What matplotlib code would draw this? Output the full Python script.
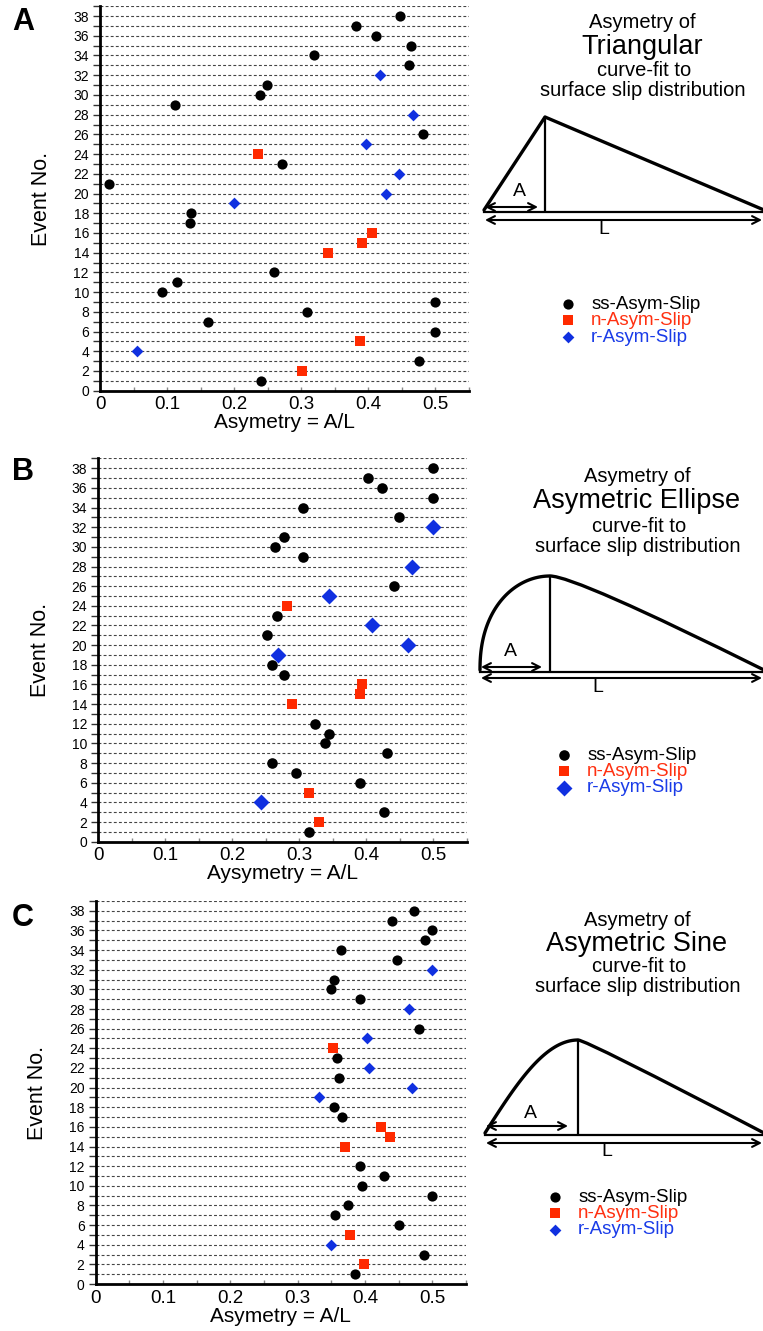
import numpy as np
import matplotlib
matplotlib.use("Agg")
import matplotlib.pyplot as plt
from matplotlib.path import Path
from matplotlib.patches import PathPatch

plt.rcParams["font.family"] = ["Liberation Sans", "DejaVu Sans"]

# ---------------- data: asymmetry A/L for each event, by slip type ----------------
# Panel A: triangular fit
tri_ss_event = [38, 37, 36, 35, 34, 33, 31, 30, 29, 26, 23, 21, 18, 17, 12, 11, 10, 9, 8, 7, 6, 3, 1]
tri_ss_asym = [0.447, 0.381, 0.412, 0.463, 0.319, 0.461, 0.249, 0.238, 0.112, 0.481, 0.272,
               0.014, 0.136, 0.134, 0.259, 0.115, 0.092, 0.500, 0.308, 0.161, 0.500, 0.475, 0.240]
tri_n_event = [24, 16, 15, 14, 5, 2]
tri_n_asym = [0.236, 0.405, 0.390, 0.340, 0.388, 0.301]
tri_r_event = [32, 28, 25, 22, 20, 19, 4]
tri_r_asym = [0.417, 0.467, 0.397, 0.445, 0.427, 0.200, 0.055]

# Panel B: asymmetric ellipse fit
ell_ss_event = [38, 37, 36, 35, 34, 33, 31, 30, 29, 26, 23, 21, 18, 17, 12, 11, 10, 9, 8, 7, 6, 3, 1]
ell_ss_asym = [0.500, 0.403, 0.423, 0.500, 0.305, 0.449, 0.277, 0.264, 0.305, 0.442, 0.267,
               0.252, 0.259, 0.277, 0.324, 0.345, 0.339, 0.431, 0.259, 0.295, 0.390, 0.426, 0.315]
ell_n_event = [24, 16, 15, 14, 5, 2]
ell_n_asym = [0.281, 0.394, 0.391, 0.289, 0.314, 0.330]
ell_r_event = [32, 28, 25, 22, 20, 19, 4]
ell_r_asym = [0.500, 0.468, 0.345, 0.409, 0.462, 0.268, 0.243]

# Panel C: asymmetric sine fit
sin_ss_event = [38, 37, 36, 35, 34, 33, 31, 30, 29, 26, 23, 21, 18, 17, 12, 11, 10, 9, 8, 7, 6, 3, 1]
sin_ss_asym = [0.473, 0.440, 0.500, 0.489, 0.364, 0.447, 0.354, 0.350, 0.393, 0.480, 0.359,
               0.361, 0.354, 0.366, 0.393, 0.428, 0.396, 0.500, 0.374, 0.356, 0.451, 0.487, 0.385]
sin_n_event = [24, 16, 15, 14, 5, 2]
sin_n_asym = [0.352, 0.424, 0.437, 0.371, 0.378, 0.399]
sin_r_event = [32, 28, 25, 22, 20, 19, 4]
sin_r_asym = [0.500, 0.466, 0.403, 0.406, 0.470, 0.332, 0.350]

series_labels = ["ss-Asym-Slip", "n-Asym-Slip", "r-Asym-Slip"]
x_ticks = [0, 0.1, 0.2, 0.3, 0.4, 0.5]
x_tick_labels = ["0", "0.1", "0.2", "0.3", "0.4", "0.5"]
y_ticks = list(range(0, 39, 2))

BLACK = "#000000"
RED = "#ff2a00"
BLUE = "#1030e0"
RED_TXT = "#ff3010"
BLUE_TXT = "#1a3ce8"

W, H = 763, 1331
fig = plt.figure(figsize=(W / 100, H / 100), dpi=100)


def px_rect(left, right, bottom, top):
    return [left / W, 1 - bottom / H, (right - left) / W, (bottom - top) / H]


panels = [
    dict(rect=px_rect(100, 469, 390.7, 6.2), letter="A", xlabel="Asymetry = A/L",
         ss=(tri_ss_event, tri_ss_asym), n=(tri_n_event, tri_n_asym), r=(tri_r_event, tri_r_asym),
         s_ss=54, s_n=48, s_r=36),
    dict(rect=px_rect(98.3, 466.8, 841.7, 458.4), letter="B", xlabel="Aysymetry = A/L",
         ss=(ell_ss_event, ell_ss_asym), n=(ell_n_event, ell_n_asym), r=(ell_r_event, ell_r_asym),
         s_ss=58, s_n=52, s_r=66),
    dict(rect=px_rect(95.7, 466.0, 1284.0, 901.0), letter="C", xlabel="Asymetry = A/L",
         ss=(sin_ss_event, sin_ss_asym), n=(sin_n_event, sin_n_asym), r=(sin_r_event, sin_r_asym),
         s_ss=54, s_n=54, s_r=36),
]

for p in panels:
    ax = fig.add_axes(p["rect"])
    ax.set_xlim(0, 0.55)
    ax.set_ylim(0, 39)
    # dashed guide line at every event number
    for ev in range(1, 40):
        ax.axhline(ev, color="#444444", lw=0.8, ls=(0, (2.6, 2.0)), zorder=1)
    h_ss = ax.scatter(p["ss"][1], p["ss"][0], s=p["s_ss"], marker="o", color=BLACK,
                      linewidths=0, zorder=3, label=series_labels[0])
    h_n = ax.scatter(p["n"][1], p["n"][0], s=p["s_n"], marker="s", color=RED,
                     linewidths=0, zorder=3, label=series_labels[1])
    h_r = ax.scatter(p["r"][1], p["r"][0], s=p["s_r"], marker="D", color=BLUE,
                     linewidths=0, zorder=3, label=series_labels[2])
    p["handles"] = [h_ss, h_n, h_r]

    for side in ("top", "right"):
        ax.spines[side].set_visible(False)
    for side in ("left", "bottom"):
        ax.spines[side].set_linewidth(2.0)
    ax.set_yticks(y_ticks)
    ax.set_yticks(range(0, 40), minor=True)
    ax.set_yticklabels([str(v) for v in y_ticks], fontsize=10)
    ax.tick_params(axis="y", which="both", direction="out", length=5, width=1.0,
                   color="#333333", pad=3)
    ax.set_xticks(x_ticks)
    ax.set_xticks(np.arange(0.05, 0.551, 0.1), minor=True)
    ax.set_xticklabels(x_tick_labels, fontsize=13.5)
    ax.tick_params(axis="x", which="both", direction="in", length=3, width=1.0,
                   color="#888888", pad=4)
    ax.set_xlabel(p["xlabel"], fontsize=15, labelpad=0)
    ax.set_ylabel("Event No.", fontsize=15.5, labelpad=15)

# ---------------- schematic drawings, titles and legends ----------------
ov = fig.add_axes([0, 0, 1, 1], zorder=5)
ov.set_xlim(0, W)
ov.set_ylim(H, 0)
ov.axis("off")
ov.patch.set_visible(False)

TEXT_CENTER = [642, 637, 637]
title_rows = [
    (23, 47, 71, 90),
    (477, 501, 526, 546),
    (921, 944, 967, 987),
]
shape_names = ["Triangular", "Asymetric Ellipse", "Asymetric Sine"]
letter_pos = [(23, 22), (23, 472), (23, 918)]

for i, p in enumerate(panels):
    cx = TEXT_CENTER[i]
    r1, r2, r3, r4 = title_rows[i]
    ov.text(cx, r1, "Asymetry of", ha="center", va="center", fontsize=14.5)
    ov.text(cx, r2, shape_names[i], ha="center", va="center", fontsize=19.5)
    ov.text(cx + 2, r3, "curve-fit to", ha="center", va="center", fontsize=14.5)
    ov.text(cx + 1, r4, "surface slip distribution", ha="center", va="center", fontsize=14.5)
    lx, ly = letter_pos[i]
    ov.text(lx, ly, p["letter"], ha="center", va="center", fontsize=22, fontweight="bold")


def arrow(x0, x1, y):
    ov.annotate("", xy=(x1, y), xytext=(x0, y),
                arrowprops=dict(arrowstyle="<->,head_length=0.55,head_width=0.28",
                                lw=1.5, color="black", shrinkA=0, shrinkB=0))


def diagram(x_left, x_peak, x_right, y_base, y_peak, left_curve, right_ctrl,
            a_end, a_y, a_lbl, l_y, l_lbl):
    verts, codes = [], []
    if left_curve is None:
        verts += [(x_left, y_base), (x_peak, y_peak)]
        codes += [Path.MOVETO, Path.LINETO]
    else:
        xs, ys = left_curve
        verts += list(zip(xs, ys))
        codes += [Path.MOVETO] + [Path.LINETO] * (len(xs) - 1)
    if right_ctrl is None:
        verts += [(x_right, y_base)]
        codes += [Path.LINETO]
    else:
        verts += [(right_ctrl, y_peak), (x_right, y_base)]
        codes += [Path.CURVE3, Path.CURVE3]
    ov.add_patch(PathPatch(Path(verts, codes), fill=False, lw=2.4, edgecolor="black",
                           capstyle="round", joinstyle="round"))
    ov.plot([x_peak, x_peak], [y_peak, y_base + 1], color="black", lw=1.6)
    ov.plot([x_left, W + 2], [y_base + 1.5, y_base + 1.5], color="black", lw=1.6)
    arrow(x_left + 1, a_end, a_y)
    arrow(x_left + 1, W - 1, l_y)
    ov.text(a_lbl[0], a_lbl[1], "A", ha="center", va="center", fontsize=14)
    ov.text(l_lbl[0], l_lbl[1], "L", ha="center", va="center", fontsize=14)


# A: triangle
diagram(484, 545, 764, 210, 117, None, None,
        538, 207, (519, 192), 220, (604, 230))

# B: quarter-ellipse rising limb
th = np.linspace(0, np.pi / 2, 60)
ell_x = 550 - 70 * np.cos(th)
ell_y = 670 - 94 * np.sin(th) ** 0.9
diagram(480, 550, 764, 670, 576, (ell_x, ell_y), 575,
        542, 667, (510, 652), 678, (598, 688))

# C: half-sine rising limb
ph = np.linspace(0, 1, 60)
sin_x = 485 + 93 * ph
sin_y = 1133 - 93 * np.sin(np.pi / 2 * ph)
diagram(485, 578, 764, 1133, 1040, (sin_x, sin_y), 586,
        568, 1126, (530, 1114), 1143, (607, 1152))

# legends
legend_anchor = [(559, 296), (555, 747), (546, 1189)]
text_colors = [BLACK, RED_TXT, BLUE_TXT]
for i, p in enumerate(panels):
    ax_x, ax_y = legend_anchor[i]
    leg = fig.legend(p["handles"], series_labels, loc="upper left",
                     bbox_to_anchor=(ax_x / W, 1 - ax_y / H), frameon=False,
                     fontsize=13.5, labelspacing=-0.05, handletextpad=0.71,
                     handlelength=1.0, borderpad=0, borderaxespad=0, markerscale=1.0)
    for t, c in zip(leg.get_texts(), text_colors):
        t.set_color(c)

fig.savefig("out.png", dpi=100)
